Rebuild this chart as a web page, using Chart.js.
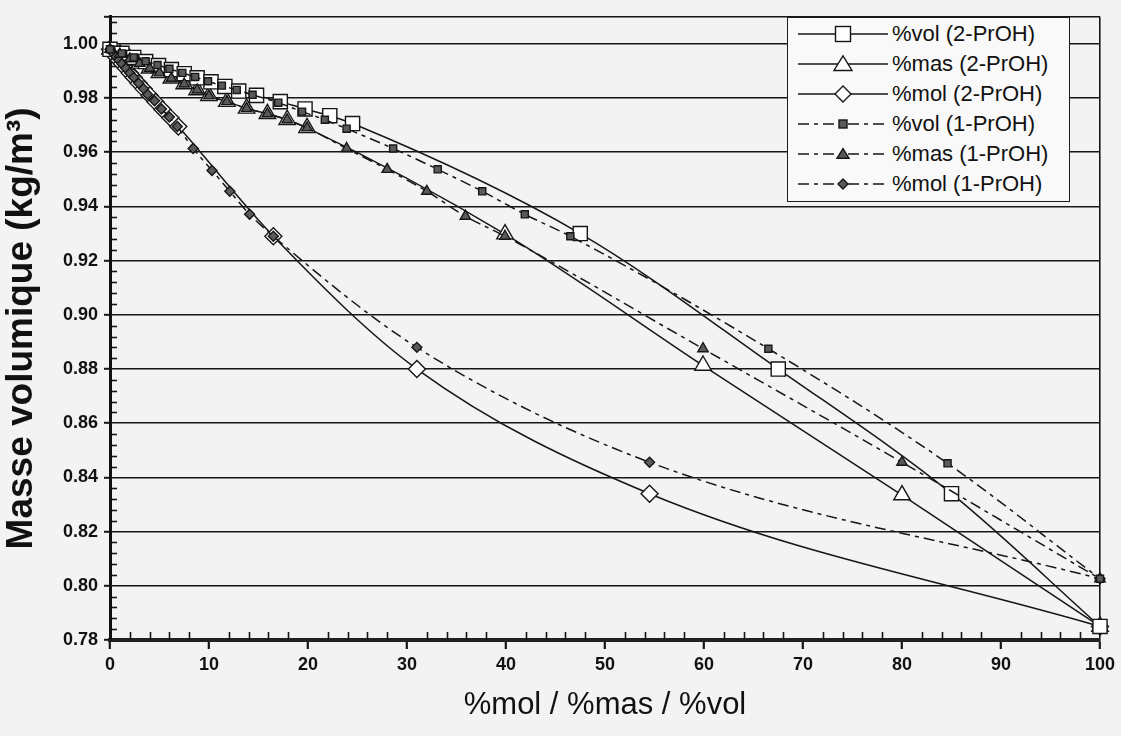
<!DOCTYPE html>
<html><head><meta charset="utf-8">
<script src="https://cdn.jsdelivr.net/npm/chart.js@4.4.0/dist/chart.umd.min.js"></script>
<style>
html,body{margin:0;padding:0;background:#f3f3f3;}
#wrap{position:relative;width:1121px;height:736px;}
#legend{position:absolute;left:787px;top:17px;width:283px;height:185px;border:1.6px solid #1c1c1c;background:#f9f9f9;box-sizing:border-box;font-family:'Liberation Sans',Arial,sans-serif;font-size:22px;color:#111;padding-top:1px;}
.row{height:30px;display:flex;align-items:center;white-space:nowrap;}
.row svg{margin-left:10px;margin-right:4px;flex:none;}
</style></head>
<body><div id="wrap"><canvas id="c" width="1121" height="736"></canvas><div id="legend"></div></div>
<script>
// ---- data ----
const seriesNames = ['%vol (2-PrOH)', '%mas (2-PrOH)', '%mol (2-PrOH)', '%vol (1-PrOH)', '%mas (1-PrOH)', '%mol (1-PrOH)'];

const vol2X = [0, 1.2, 2.4, 3.6, 4.9, 6.2, 7.5, 8.8, 10.2, 11.6, 13.0, 14.8, 17.2, 19.7, 22.2, 24.5, 47.5, 67.5, 85.0, 100];
const vol2Y = [0.998, 0.9965, 0.995, 0.9935, 0.992, 0.9905, 0.989, 0.9875, 0.986, 0.9843, 0.9826, 0.981, 0.9787, 0.976, 0.9735, 0.9706, 0.930, 0.880, 0.834, 0.785];

const mas2X = [0, 1.0, 2.0, 3.0, 4.0, 5.0, 6.2, 7.5, 8.8, 10.0, 11.8, 13.8, 15.9, 17.9, 19.9, 39.9, 59.9, 80.0, 100];
const mas2Y = [0.998, 0.9962, 0.9945, 0.9928, 0.991, 0.9893, 0.9873, 0.9852, 0.983, 0.9808, 0.9787, 0.9762, 0.9742, 0.972, 0.969, 0.9298, 0.8813, 0.8335, 0.785];

const mol2X = [0, 0.3, 0.6, 0.9, 1.2, 1.6, 2.0, 2.4, 2.9, 3.4, 4.0, 4.6, 5.3, 6.1, 6.9, 16.5, 31.0, 54.5, 100];
const mol2Y = [0.998, 0.9966, 0.9953, 0.994, 0.9927, 0.991, 0.9893, 0.9876, 0.9855, 0.9834, 0.981, 0.9786, 0.9758, 0.9727, 0.9695, 0.929, 0.880, 0.834, 0.785];

const vol1X = [0, 1.2, 2.4, 3.6, 4.8, 6.0, 7.3, 8.6, 9.9, 11.3, 12.8, 14.4, 17.0, 19.4, 21.7, 23.9, 28.6, 33.1, 37.6, 41.9, 46.5, 66.5, 84.6, 100];
const vol1Y = [0.998, 0.9965, 0.995, 0.9936, 0.9922, 0.9908, 0.9893, 0.9878, 0.9862, 0.9846, 0.983, 0.9812, 0.9783, 0.975, 0.972, 0.9687, 0.9614, 0.9537, 0.9456, 0.9371, 0.929, 0.8875, 0.8452, 0.8026];

const mas1X = [0, 1.0, 2.0, 3.0, 4.0, 5.0, 6.2, 7.5, 8.8, 10.0, 11.8, 13.8, 15.9, 17.9, 19.9, 23.9, 28.0, 32.0, 35.9, 39.9, 59.9, 80.0, 100];
const mas1Y = [0.998, 0.9962, 0.9945, 0.9928, 0.991, 0.9893, 0.9873, 0.9852, 0.983, 0.9808, 0.9787, 0.9762, 0.9742, 0.972, 0.969, 0.9614, 0.9537, 0.9456, 0.9364, 0.929, 0.8875, 0.8456, 0.8026];

const mol1X = [0, 0.3, 0.6, 0.9, 1.2, 1.6, 2.0, 2.4, 2.9, 3.4, 3.8, 4.5, 5.2, 6.0, 6.8, 8.4, 10.3, 12.1, 14.1, 16.5, 31.0, 54.5, 100];
const mol1Y = [0.998, 0.9966, 0.9953, 0.994, 0.9927, 0.991, 0.9893, 0.9876, 0.9855, 0.9834, 0.9813, 0.979, 0.976, 0.973, 0.9695, 0.9614, 0.9533, 0.9456, 0.9371, 0.929, 0.888, 0.8456, 0.8026];

const yTickValues = [0.78, 0.80, 0.82, 0.84, 0.86, 0.88, 0.90, 0.92, 0.94, 0.96, 0.98, 1.00, 1.01];
const xTickStep = 10;

// ---- styles ----
const INK = '#161616';
const FILL = '#5a5a5a';
const DASH = [11, 5, 4, 5];
const styles = [
  {shape:'rect',     r:10,  fill:'#ffffff', dash:[],   order:2, lr:7.5},
  {shape:'triangle', r:9.5, fill:'#ffffff', dash:[],   order:2, lr:9},
  {shape:'rectRot',  r:8.5, fill:'#ffffff', dash:[],   order:2, lr:8},
  {shape:'rect',     r:5,   fill:FILL,      dash:DASH, order:1, lr:4},
  {shape:'triangle', r:6,   fill:FILL,      dash:DASH, order:1, lr:6},
  {shape:'rectRot',  r:5,   fill:FILL,      dash:DASH, order:1, lr:5}
];
const xs = [vol2X, mas2X, mol2X, vol1X, mas1X, mol1X];
const ys = [vol2Y, mas2Y, mol2Y, vol1Y, mas1Y, mol1Y];

const datasets = seriesNames.map((name, i) => ({
  label: name,
  data: xs[i].map((x, k) => ({x: x, y: ys[i][k]})),
  showLine: true,
  borderColor: INK,
  borderWidth: 1.5,
  borderDash: styles[i].dash,
  cubicInterpolationMode: 'monotone',
  pointStyle: styles[i].shape,
  pointRadius: styles[i].r,
  pointHoverRadius: styles[i].r,
  pointBackgroundColor: styles[i].fill,
  pointBorderColor: INK,
  pointBorderWidth: 1.4,
  order: styles[i].order,
  clip: false
}));

const minorTicks = {
  id: 'minorTicks',
  beforeDatasetsDraw(chart) {
    const {ctx, chartArea, scales: {x, y}} = chart;
    ctx.save();
    ctx.strokeStyle = INK;
    ctx.lineWidth = 1.6;
    for (let v = 2; v < 100; v += 2) {
      if (v % 10 === 0) continue;
      const px = Math.round(x.getPixelForValue(v)) + 0.5;
      ctx.beginPath(); ctx.moveTo(px, chartArea.bottom); ctx.lineTo(px, chartArea.bottom - 8); ctx.stroke();
    }
    for (let k = 1; k < 58; k++) {
      const v = 0.78 + k * 0.004;
      if (k % 5 === 0) continue;
      const py = Math.round(y.getPixelForValue(v)) + 0.5;
      ctx.beginPath(); ctx.moveTo(chartArea.left, py); ctx.lineTo(chartArea.left + 7, py); ctx.stroke();
    }
    ctx.restore();
  }
};

new Chart(document.getElementById('c'), {
  type: 'scatter',
  data: {datasets},
  plugins: [minorTicks],
  options: {
    responsive: false,
    animation: false,
    layout: {padding: {top: 14, right: 21, left: 0, bottom: 0}},
    plugins: {legend: {display: false}, tooltip: {enabled: false}},
    scales: {
      x: {
        type: 'linear', min: 0, max: 100,
        afterFit: s => { s.height = 96; },
        ticks: {stepSize: xTickStep, padding: 5, color: '#111',
          font: {family: "'Liberation Sans',Arial,sans-serif", weight: 'bold', size: 18}},
        grid: {drawOnChartArea: true,
          color: c => (c.tick && c.tick.value === 100) ? INK : 'rgba(0,0,0,0)',
          lineWidth: 1.6, tickLength: 9, tickColor: INK, tickWidth: 2.2},
        border: {display: true, color: '#222', width: 4},
        title: {display: true, text: '%mol / %mas / %vol', color: '#111',
          font: {family: "'Liberation Sans',Arial,sans-serif", size: 31},
          padding: {top: 0, bottom: 12}}
      },
      y: {
        type: 'linear', min: 0.78, max: 1.01,
        afterBuildTicks: s => { s.ticks = yTickValues.map(v => ({value: v})); },
        afterFit: s => { s.width = 110; },
        ticks: {padding: 6, color: '#111',
          font: {family: "'Liberation Sans',Arial,sans-serif", weight: 'bold', size: 18},
          callback: v => v > 1.005 ? '' : Number(v).toFixed(2)},
        grid: {color: INK, lineWidth: 1.6, tickLength: 6, tickColor: INK, tickWidth: 2},
        border: {display: true, color: '#111', width: 3},
        title: {display: true, text: 'Masse volumique (kg/m³)', color: '#111',
          font: {family: "'Liberation Sans',Arial,sans-serif", weight: 'bold', size: 37},
          padding: {top: 0, bottom: 0}}
      }
    }
  }
});

// ---- HTML legend ----
function markerSVG(st, cx, cy) {
  const r = st.lr, f = st.fill;
  const a = `fill="${f}" stroke="${INK}" stroke-width="1.4"`;
  if (st.shape === 'rect') return `<rect x="${cx - r}" y="${cy - r}" width="${2 * r}" height="${2 * r}" ${a}/>`;
  if (st.shape === 'triangle') {
    const h = r * 0.9;
    return `<polygon points="${cx},${cy - h} ${cx + r},${cy + h * 0.8} ${cx - r},${cy + h * 0.8}" ${a}/>`;
  }
  return `<polygon points="${cx},${cy - r} ${cx + r},${cy} ${cx},${cy + r} ${cx - r},${cy}" ${a}/>`;
}
const legendEl = document.getElementById('legend');
legendEl.innerHTML = seriesNames.map((name, i) => {
  const st = styles[i];
  const dash = st.dash.length ? `stroke-dasharray="${st.dash.join(' ')}"` : '';
  return `<div class="row"><svg width="90" height="30"><line x1="0" y1="15" x2="90" y2="15" stroke="${INK}" stroke-width="1.6" ${dash}/>${markerSVG(st, 45, 15)}</svg><span>${name}</span></div>`;
}).join('');
</script>
</body></html>
